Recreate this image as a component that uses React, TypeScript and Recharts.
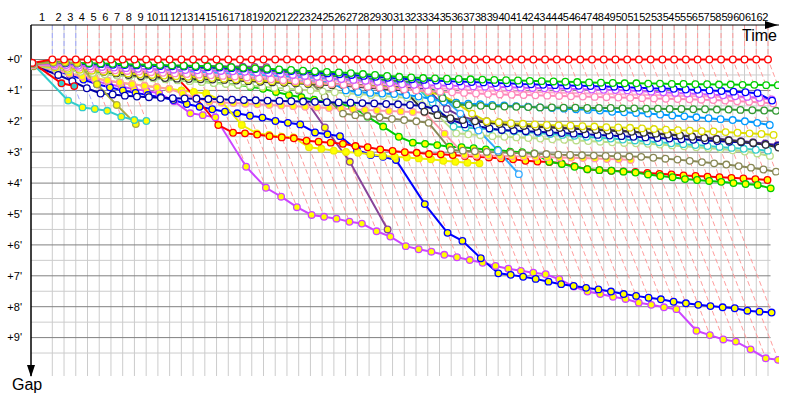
import { LineChart, Line, XAxis, YAxis, ReferenceDot } from 'recharts'

// leader lap times in minutes (lap 1 includes the start)
const leaderLapTimes = [
  1.79, 0.986, 0.986, 0.986, 0.986, 0.986, 0.986, 0.986, 0.986, 0.986,
  0.986, 0.986, 0.986, 0.986, 0.986, 0.986, 0.986, 0.986, 0.986, 0.986,
  0.986, 0.986, 0.986, 0.986, 0.986, 0.986, 0.986, 0.986, 0.986, 0.986,
  0.986, 0.986, 0.986, 0.986, 0.986, 0.986, 0.986, 0.986, 0.986, 0.986,
  0.986, 0.986, 0.986, 0.986, 0.986, 0.986, 0.986, 0.986, 0.986, 0.986,
  0.986, 0.986, 0.986, 0.986, 0.986, 0.986, 0.986, 0.986, 0.986, 0.986,
  0.986, 0.986,
]

const gapTicks = [0, 1, 2, 3, 4, 5, 6, 7, 8, 9]
const halfTicks = [0.5, 1.5, 2.5, 3.5, 4.5, 5.5, 6.5, 7.5, 8.5, 9.5]

// gaps to the leader (minutes), index = lap
const gapLeader = [
  0.11,
  0, 0, 0, 0, 0, 0, 0, 0, 0, 0,
  0, 0, 0, 0, 0, 0, 0, 0, 0, 0,
  0, 0, 0, 0, 0, 0, 0, 0, 0, 0,
  0, 0, 0, 0, 0, 0, 0, 0, 0, 0,
  0, 0, 0, 0, 0, 0, 0, 0, 0, 0,
  0, 0, 0, 0, 0, 0, 0, 0, 0, 0,
  0, 0,
]
const gapGreen = [
  0.12,
  0.08, 0.1, 0.11, 0.12, 0.13, 0.14, 0.15, 0.16, 0.17, 0.18,
  0.19, 0.2, 0.21, 0.22, 0.23, 0.25, 0.27, 0.29, 0.3, 0.32,
  0.34, 0.36, 0.38, 0.4, 0.42, 0.44, 0.47, 0.5, 0.53, 0.56,
  0.58, 0.6, 0.61, 0.62, 0.63, 0.64, 0.65, 0.66, 0.67, 0.68,
  0.69, 0.7, 0.71, 0.72, 0.73, 0.74, 0.75, 0.76, 0.77, 0.77,
  0.78, 0.78, 0.79, 0.79, 0.8, 0.8, 0.81, 0.81, 0.82, 0.82,
  0.83, 0.83,
]
const gapBlue = [
  0.13,
  0.1, 0.12, 0.13, 0.14, 0.15, 0.17, 0.18, 0.19, 0.2, 0.21,
  0.22, 0.23, 0.24, 0.25, 0.26, 0.28, 0.29, 0.31, 0.33, 0.35,
  0.37, 0.39, 0.42, 0.45, 0.48, 0.5, 0.53, 0.56, 0.59, 0.62,
  0.64, 0.66, 0.68, 0.7, 0.71, 0.73, 0.74, 0.76, 0.77, 0.79,
  0.8, 0.82, 0.83, 0.84, 0.85, 0.86, 0.87, 0.88, 0.9, 0.91,
  0.93, 0.94, 0.95, 0.97, 0.98, 1.0, 1.02, 1.04, 1.06, 1.09,
  1.33,
]
const gapViolet = [
  0.15,
  0.15, 0.18, 0.2, 0.22, 0.24, 0.26, 0.28, 0.3, 0.31, 0.32,
  0.33, 0.34, 0.35, 0.36, 0.37, 0.38, 0.4, 0.42, 0.44, 0.46,
  0.5, 0.53, 0.56, 0.6, 0.63, 0.66, 0.69, 0.72, 0.76, 0.8,
  0.82, 0.83, 0.84, 0.85, 0.86, 0.87, 0.88, 0.89, 0.9, 0.91,
  0.92, 0.93, 0.94, 0.95, 0.96, 0.97, 0.98, 0.99, 1.0, 1.02,
  1.04, 1.06, 1.08, 1.1, 1.12, 1.14, 1.16, 1.19, 1.21, 1.24,
  1.29,
]
const gapPinkA = [
  0.18,
  0.2, 0.24, 0.27, 0.3, 0.33, 0.35, 0.37, 0.39, 0.41, 0.43,
  0.45, 0.47, 0.49, 0.51, 0.53, 0.55, 0.58, 0.61, 0.64, 0.67,
  0.7, 0.73, 0.76, 0.79, 0.82, 0.85, 0.88, 0.91, 0.94, 0.97,
  1.0, 1.02, 1.04, 1.06, 1.08, 1.1, 1.12, 1.13, 1.14, 1.15,
  1.16, 1.17, 1.18, 1.19, 1.2, 1.21, 1.22, 1.23, 1.24, 1.25,
  1.26, 1.27, 1.28, 1.29, 1.3, 1.31, 1.33, 1.35, 1.37, 1.39,
  1.42,
]
const gapPinkB = [
  0.16,
  0.18, 0.21, 0.24, 0.27, 0.3, 0.32, 0.34, 0.36, 0.38, 0.4,
  0.42, 0.44, 0.46, 0.48, 0.5, 0.52, 0.54, 0.56, 0.58, 0.6,
  0.62, 0.64, 0.66, 0.68, 0.7, 0.72, 0.75, 0.78, 0.81, 0.84,
  0.87, 0.9, 0.93, 0.95, 0.97, 0.99, 1.0, 1.02, 1.03, 1.04,
  1.05, 1.06, 1.07, 1.08, 1.09, 1.1, 1.11, 1.12, 1.13, 1.14,
  1.15, 1.16, 1.17, 1.18, 1.19, 1.2, 1.21, 1.22, 1.23, 1.25,
  1.3,
]
const gapDarkGreen = [
  0.14,
  0.1, 0.12, 0.14, 0.15, 0.16, 0.18, 0.19, 0.2, 0.21, 0.22,
  0.23, 0.24, 0.26, 0.28, 0.3, 0.32, 0.34, 0.36, 0.38, 0.4,
  0.43, 0.46, 0.49, 0.52, 0.55, 0.58, 0.61, 0.64, 0.67, 0.7,
  0.73, 0.76, 1.25, 1.45, 1.48, 1.5, 1.51, 1.52, 1.53, 1.54,
  1.55, 1.55, 1.56, 1.56, 1.57, 1.57, 1.57, 1.58, 1.58, 1.59,
  1.59, 1.6, 1.6, 1.61, 1.61, 1.62, 1.62, 1.63, 1.64, 1.65,
  1.66,
]
const gapAzure = [
  0.17,
  0.2, 0.23, 0.25, 0.27, 0.29, 0.31, 0.33, 0.35, 0.37, 0.39,
  0.41, 0.43, 0.45, 0.47, 0.49, 0.51, 0.53, 0.55, 0.57, 0.6,
  0.63, 0.66, 0.69, 0.72, 1.0, 1.05, 1.08, 1.1, 1.12, 1.15,
  1.2, 1.28, 1.37, 1.4, 1.43, 1.45, 1.47, 1.49, 1.51, 1.53,
  1.55, 1.57, 1.59, 1.61, 1.63, 1.65, 1.69, 1.71, 1.73, 1.75,
  1.78, 1.81, 1.84, 1.87, 1.9, 1.93, 1.96, 2.0, 2.05, 2.12,
]
const gapAzureOut = [
  0.16,
  0.15, 0.18, 0.2, 0.22, 0.24, 0.26, 0.28, 0.3, 0.32, 0.34,
  0.36, 0.38, 0.4, 0.42, 0.44, 0.46, 0.48, 0.5, 0.52, 0.54,
  0.56, 0.58, 0.6, 0.62, 0.64, 0.66, 0.68, 0.7, 0.71, 0.72,
  0.73, 0.75, 1.2, 1.75, 2.3, 2.95, 3.71,
]
const gapYellow = [
  0.2,
  0.25, 0.3, 0.33, 0.36, 0.39, 0.42, 0.45, 0.48, 0.5, 0.52,
  0.54, 0.56, 0.58, 0.6, 0.62, 0.64, 0.66, 0.68, 0.7, 0.72,
  0.74, 0.76, 0.78, 0.8, 0.82, 0.84, 0.86, 0.88, 0.91, 0.95,
  1.0, 1.05, 1.15, 1.4, 1.75, 2.0, 2.03, 2.06, 2.08, 2.1,
  2.12, 2.13, 2.14, 2.16, 2.17, 2.19, 2.2, 2.21, 2.23, 2.25,
  2.27, 2.29, 2.3, 2.32, 2.33, 2.35, 2.37, 2.39, 2.41, 2.44,
]
const gapNavy = [
  0.2,
  0.5, 0.7, 0.93, 1.1, 1.13, 1.17, 1.2, 1.22, 1.24, 1.25,
  1.26, 1.27, 1.28, 1.29, 1.3, 1.31, 1.32, 1.33, 1.34, 1.35,
  1.36, 1.37, 1.38, 1.39, 1.4, 1.41, 1.42, 1.44, 1.45, 1.47,
  1.5, 1.6, 1.95, 2.1, 2.15, 2.23, 2.28, 2.3, 2.32, 2.34,
  2.36, 2.38, 2.4, 2.42, 2.44, 2.46, 2.48, 2.5, 2.52, 2.54,
  2.56, 2.58, 2.6, 2.62, 2.64, 2.66, 2.68, 2.71, 2.75, 2.8,
]
const gapDarkGray = [
  0.19,
  0.2, 0.25, 0.3, 0.35, 0.4, 0.45, 0.5, 0.54, 0.57, 0.6,
  0.62, 0.63, 0.64, 0.65, 0.66, 0.68, 0.7, 0.72, 0.74, 0.75,
  0.77, 0.79, 0.81, 0.83, 0.85, 0.88, 0.91, 0.94, 0.97, 1.0,
  1.69, 1.8, 1.9, 1.96, 2.0, 2.05, 2.09, 2.12, 2.15, 2.18,
  2.2, 2.22, 2.24, 2.26, 2.28, 2.3, 2.32, 2.34, 2.37, 2.4,
  2.43, 2.46, 2.5, 2.54, 2.58, 2.62, 2.66, 2.7, 2.76, 2.85,
]
const gapPurple = [
  0.18,
  0.18, 0.22, 0.26, 0.3, 0.34, 0.38, 0.42, 0.45, 0.48, 0.5,
  0.52, 0.54, 0.56, 0.58, 0.6, 0.62, 0.64, 0.66, 0.68, 0.7,
  0.72, 0.74, 0.76, 0.78, 0.8, 0.82, 0.84, 0.86, 0.88, 0.9,
  0.92, 0.95, 1.6, 1.85, 1.95, 2.0, 2.04, 2.08, 2.11, 2.14,
  2.17, 2.2, 2.22, 2.24, 2.26, 2.28, 2.3, 2.33, 2.36, 2.39,
  2.42, 2.45, 2.48, 2.52, 2.56, 2.6, 2.64, 2.68, 2.72, 2.77,
]
const gapCyan = [
  0.15,
  0.14, 0.17, 0.2, 0.23, 0.26, 0.29, 0.31, 0.33, 0.35, 0.37,
  0.39, 0.41, 0.43, 0.45, 0.47, 0.49, 0.51, 0.53, 0.55, 0.57,
  0.59, 0.61, 0.63, 0.65, 0.67, 0.69, 0.71, 0.73, 0.75, 0.77,
  0.8, 1.4, 2.17, 2.2, 2.23, 2.26, 2.29, 2.32, 2.35, 2.38,
  2.41, 2.44, 2.47, 2.5, 2.53, 2.56, 2.59, 2.62, 2.65, 2.68,
  2.71, 2.74, 2.77, 2.8, 2.83, 2.86, 2.89, 2.92, 2.95,
]
const gapLightGreen = [
  0.22,
  0.3, 0.35, 0.4, 0.44, 0.48, 0.52, 0.55, 0.58, 0.61, 0.64,
  0.67, 0.7, 0.73, 0.76, 0.79, 0.82, 0.85, 0.88, 0.91, 0.94,
  0.97, 1.0, 1.03, 1.06, 1.09, 1.12, 1.15, 1.18, 1.21, 1.24,
  1.27, 1.8, 2.39, 2.42, 2.45, 2.48, 2.5, 2.52, 2.54, 2.56,
  2.58, 2.6, 2.62, 2.64, 2.66, 2.68, 2.7, 2.71, 2.73, 2.75,
  2.78, 2.81, 2.84, 2.87, 2.9, 2.94, 2.98, 3.04, 3.12,
]
const gapOlive = [
  0.2,
  0.22, 0.26, 0.3, 0.33, 0.36, 0.38, 0.4, 0.42, 0.44, 0.46,
  0.47, 0.48, 0.49, 0.5, 0.51, 0.52, 0.53, 0.54, 0.55, 0.56,
  0.56, 0.56, 1.2, 1.75, 1.8, 1.83, 1.87, 1.92, 1.96, 2.0,
  2.05, 2.93, 2.95, 2.97, 2.99, 3.0, 3.02, 3.03, 3.05, 3.06,
  3.08, 3.09, 3.1, 3.11, 3.12, 3.13, 3.14, 3.15, 3.18, 3.21,
  3.24, 3.28, 3.32, 3.36, 3.4, 3.45, 3.5, 3.56, 3.63,
]
const gapPinkY = [
  0.22,
  0.35, 0.45, 0.55, 0.62, 0.68, 0.74, 0.8, 0.85, 0.9, 0.95,
  1.1, 1.25, 1.37, 1.39, 1.41, 1.43, 1.45, 1.47, 1.49, 1.51,
  1.53, 1.55, 1.57, 1.59, 1.61, 1.63, 1.65, 1.67, 1.68, 1.7,
  1.72, 2.4, 3.09, 3.1, 3.11, 3.12, 3.13, 3.14, 3.15, 3.16,
  3.17, 3.18, 3.19, 3.2, 3.22, 3.23, 3.25,
]
const gapRedY = [
  0.2,
  0.3, 0.35, 0.38, 0.41, 0.44, 0.47, 0.5, 0.52, 0.54, 0.56,
  0.58, 1.25, 2.12, 2.37, 2.39, 2.43, 2.48, 2.52, 2.55, 2.63,
  2.66, 2.69, 2.73, 2.8, 2.84, 2.91, 2.96, 3.0, 3.02, 3.06,
  3.07, 3.09, 3.12, 3.15, 3.17, 3.2, 3.23, 3.28, 3.3, 3.32,
  3.36, 3.45, 3.55, 3.58, 3.6, 3.62, 3.64, 3.67, 3.7, 3.72,
  3.75, 3.77, 3.79, 3.81, 3.83, 3.85, 3.87, 3.9,
]
const gapGreenY = [
  0.21,
  0.28, 0.33, 0.37, 0.41, 0.45, 0.49, 0.53, 0.57, 0.6, 0.63,
  0.66, 0.69, 0.72, 0.75, 0.78, 0.82, 0.88, 0.95, 1.05, 1.15,
  1.22, 1.3, 1.38, 1.45, 1.52, 1.85, 2.17, 2.5, 2.69, 2.73,
  2.77, 2.82, 2.84, 2.87, 2.91, 2.93, 2.98, 3.0, 3.04, 3.31,
  3.38, 3.47, 3.55, 3.58, 3.6, 3.63, 3.66, 3.72, 3.77, 3.81,
  3.87, 3.9, 3.93, 3.96, 4.0, 4.03, 4.06, 4.17,
]
const gapYellowY = [
  0.2,
  0.3, 0.45, 0.55, 0.6, 0.68, 0.75, 0.8, 0.85, 0.9, 0.95,
  1.0, 1.05, 1.1, 1.31, 2.12, 2.39, 2.44, 2.5, 2.52, 2.84,
  2.89, 2.95, 2.99, 3.02, 3.07, 3.12, 3.15, 3.17, 3.2, 3.23,
  3.28, 3.31, 3.34, 3.36,
]
const gapBlueY = [
  0.2,
  0.35, 0.5, 0.65, 0.8, 0.9, 1.0, 1.08, 1.15, 1.22, 1.31,
  1.44, 1.53, 1.61, 1.69, 1.74, 1.82, 1.88, 1.99, 2.05, 2.1,
  2.36, 2.42, 2.48, 2.93, 3.09, 3.15, 3.25, 4.68, 5.61, 5.87,
  6.43, 6.92, 6.97, 7.03, 7.1, 7.19, 7.27, 7.33, 7.39, 7.44,
  7.51, 7.59, 7.65, 7.71, 7.76, 7.84, 7.89, 7.94, 7.98, 8.02,
  8.05, 8.13, 8.16, 8.19,
]
const gapMagentaY = [
  0.18,
  0.35, 0.5, 0.6, 0.7, 0.8, 0.88, 0.95, 1.02, 1.09, 1.35,
  1.74, 1.8, 1.87, 3.47, 4.15, 4.44, 4.78, 5.03, 5.09, 5.15,
  5.25, 5.31, 5.56, 5.73, 6.04, 6.14, 6.22, 6.32, 6.4, 6.49,
  6.58, 6.68, 6.77, 6.84, 6.9, 6.95, 7.11, 7.35, 7.51, 7.59,
  7.68, 7.75, 7.87, 7.94, 8.02, 8.08, 8.78, 8.92, 9.06, 9.13,
  9.38, 9.67, 9.72,
]
const gapPurpleOut = [
  0.17,
  0.15, 0.16, 0.17, 0.17, 0.18, 0.18, 0.19, 0.19, 0.2, 0.2,
  0.2, 0.2, 0.21, 0.22, 0.22, 0.23, 0.23, 0.24, 0.25,
  0.45, 1.0, 2.2, 3.31, 5.5,
]
const gapCyanY = [0.12, 1.33, 1.55, 1.6, 1.66, 1.85, 1.96, 1.99]
const gapRedC = [0.1, 0.77, 0.86]
const gapKhakiY = [0.15, 0.1, 0.1, 0.12, 0.8, 1.47, 2.09]

// drawing order: first is at the back
const series = [
  { key: 'magentaY', gaps: gapMagentaY, stroke: '#cc44ff', fill: '#ffff00' },
  { key: 'blueY', gaps: gapBlueY, stroke: '#0000ff', fill: '#ffff00' },
  { key: 'purpleOut', gaps: gapPurpleOut, stroke: '#884499', fill: '#ffff00' },
  { key: 'yellowY', gaps: gapYellowY, stroke: '#eeee00', fill: '#ffff00' },
  { key: 'redY', gaps: gapRedY, stroke: '#ff0000', fill: '#ffff00' },
  { key: 'greenY', gaps: gapGreenY, stroke: '#00cc00', fill: '#ffff00' },
  { key: 'pinkY', gaps: gapPinkY, stroke: '#ff99aa', fill: '#ffff00' },
  { key: 'olive', gaps: gapOlive, stroke: '#888855', fill: '#ffffff' },
  { key: 'lightGreen', gaps: gapLightGreen, stroke: '#bbdd88', fill: '#ffffff' },
  { key: 'cyan', gaps: gapCyan, stroke: '#33cccc', fill: '#ffffff' },
  { key: 'purple', gaps: gapPurple, stroke: '#663399', fill: '#ffffff' },
  { key: 'navy', gaps: gapNavy, stroke: '#0000aa', fill: '#ffffff' },
  { key: 'darkGray', gaps: gapDarkGray, stroke: '#333333', fill: '#ffffff' },
  { key: 'yellow', gaps: gapYellow, stroke: '#dddd00', fill: '#ffffff' },
  { key: 'azureOut', gaps: gapAzureOut, stroke: '#33aaff', fill: '#ffffff' },
  { key: 'azure', gaps: gapAzure, stroke: '#0099ff', fill: '#ffffff' },
  { key: 'darkGreen', gaps: gapDarkGreen, stroke: '#339933', fill: '#ffffff' },
  { key: 'pinkB', gaps: gapPinkB, stroke: '#ffaacc', fill: '#ffffff' },
  { key: 'pinkA', gaps: gapPinkA, stroke: '#ff88bb', fill: '#ffffff' },
  { key: 'violet', gaps: gapViolet, stroke: '#cc55ff', fill: '#ffffff' },
  { key: 'blue', gaps: gapBlue, stroke: '#0000ff', fill: '#ffffff' },
  { key: 'green', gaps: gapGreen, stroke: '#00cc00', fill: '#ffffff' },
  { key: 'khakiY', gaps: gapKhakiY, stroke: '#aaaa44', fill: '#ffff00' },
  { key: 'cyanY', gaps: gapCyanY, stroke: '#33cccc', fill: '#ffff00' },
  { key: 'redC', gaps: gapRedC, stroke: '#ff0000', fill: '#33cccc' },
  { key: 'leader', gaps: gapLeader, stroke: '#ff0000', fill: '#ffffff' },
]

const X_MAX = 62.86
const GRID_END = 62.15
const Y_MIN = -1.117
const Y_MAX = 10.243

// leader time at the end of each lap
const lapEnd: number[] = [0]
leaderLapTimes.forEach((t, i) => lapEnd.push(lapEnd[i] + t))

// x tick for lap n sits in the middle of that lap
const lapTicks = leaderLapTimes.map((_, i) => (lapEnd[i] + lapEnd[i + 1]) / 2)

const toPoints = (gaps: number[]) => gaps.map((g, lap) => ({ x: lapEnd[lap] + g, y: g }))

// biggest gap on each lap, the lap lines run down to it
const maxGap = lapEnd.map((_, lap) => {
  let m = 0
  series.forEach(s => {
    if (s.gaps.length > lap && s.gaps[lap] > m) m = s.gaps[lap]
  })
  return m
})

type P = { x: number; y: number | null }

const verticalGrid: P[] = []
lapEnd.slice(1).forEach(t => {
  verticalGrid.push({ x: t, y: Y_MIN }, { x: t, y: Y_MAX }, { x: t, y: null })
})
const lightGrid: P[] = []
halfTicks.forEach(g => lightGrid.push({ x: 0, y: g }, { x: GRID_END, y: g }, { x: GRID_END, y: null }))
const darkGrid: P[] = []
gapTicks.forEach(g => darkGrid.push({ x: 0, y: g }, { x: GRID_END, y: g }, { x: GRID_END, y: null }))

const lapLines = (from: number, to: number) => {
  const pts: P[] = []
  for (let lap = from; lap <= to; lap++) {
    const t = lapEnd[lap]
    const g = maxGap[lap]
    pts.push({ x: t, y: Y_MIN }, { x: t, y: 0 }, { x: t + g, y: g }, { x: t + g, y: null })
  }
  return pts
}
const lapLinesBlue = lapLines(1, 3)
const lapLinesRed = lapLines(4, 62)

const RightArrow = (p: any) => (
  <g>
    <polygon points={`${p.cx - 1},${p.cy} ${p.cx - 14},${p.cy - 4} ${p.cx - 14},${p.cy + 4}`} fill="#000" />
    <text x={p.cx - 2} y={p.cy + 16} textAnchor="end" fontSize={16} fill="#000">Time</text>
  </g>
)
const DownArrow = (p: any) => (
  <g>
    <polygon points={`${p.cx},${p.cy + 1} ${p.cx - 4},${p.cy - 11} ${p.cx + 4},${p.cy - 11}`} fill="#000" />
    <text x={p.cx - 19} y={p.cy + 14} fontSize={16} fill="#000">Gap</text>
  </g>
)

export default function App() {
  return (
    <div style={{ position: 'absolute', left: 0, top: 0, width: 800, height: 400, background: '#fff', fontFamily: '"Liberation Sans", Arial, sans-serif' }}>
      <LineChart width={800} height={400} margin={{ top: 0, right: 21, bottom: 24, left: 0 }}>
        <XAxis
          type="number"
          dataKey="x"
          orientation="top"
          height={25}
          domain={[0, X_MAX]}
          allowDataOverflow
          ticks={lapTicks}
          interval={0}
          tickFormatter={(v: number) => String(lapTicks.indexOf(v) + 1)}
          tickLine={false}
          tickSize={2}
          tickMargin={2}
          axisLine={{ stroke: '#000' }}
          tick={{ fontSize: 11, fill: '#000', letterSpacing: -0.6 }}
        />
        <YAxis
          type="number"
          dataKey="y"
          width={31}
          reversed
          domain={[Y_MIN, Y_MAX]}
          allowDataOverflow
          ticks={gapTicks}
          interval={0}
          tickFormatter={(v: number) => `+${v}'`}
          tickLine={false}
          tickSize={6}
          tickMargin={3}
          axisLine={{ stroke: '#000', strokeWidth: 1.5 }}
          tick={{ fontSize: 11, fill: '#000' }}
        />
        <Line data={verticalGrid} dataKey="y" stroke="#cccccc" strokeWidth={1} dot={false} activeDot={false} isAnimationActive={false} />
        <Line data={lightGrid} dataKey="y" stroke="#cccccc" strokeWidth={1} dot={false} activeDot={false} isAnimationActive={false} />
        <Line data={darkGrid} dataKey="y" stroke="#808080" strokeWidth={1} dot={false} activeDot={false} isAnimationActive={false} />
        <Line data={lapLinesBlue} dataKey="y" stroke="#a0a8ff" strokeWidth={1} strokeDasharray="5 3" dot={false} activeDot={false} isAnimationActive={false} />
        <Line data={lapLinesRed} dataKey="y" stroke="#ff9c9c" strokeWidth={1} strokeDasharray="5 3" dot={false} activeDot={false} isAnimationActive={false} />
        {series.map(s => (
          <Line
            key={s.key}
            data={toPoints(s.gaps)}
            dataKey="y"
            stroke={s.stroke}
            strokeWidth={2}
            dot={{ r: 3.3, stroke: s.stroke, strokeWidth: 1.3, fill: s.fill }}
            activeDot={false}
            isAnimationActive={false}
          />
        ))}
        <ReferenceDot x={X_MAX} y={Y_MIN} r={0} ifOverflow="visible" shape={RightArrow} />
        <ReferenceDot x={0} y={Y_MAX} r={0} ifOverflow="visible" shape={DownArrow} />
      </LineChart>
    </div>
  )
}
